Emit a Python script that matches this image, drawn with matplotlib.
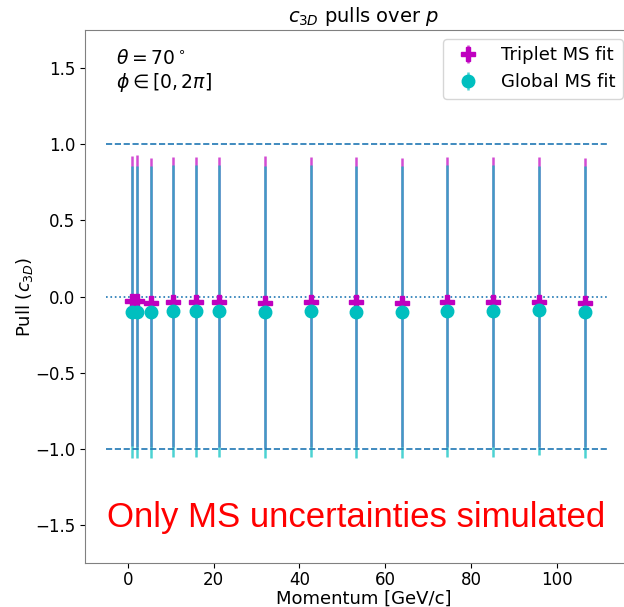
import matplotlib
matplotlib.use("Agg")
import matplotlib.pyplot as plt
import numpy as np

momentum = [1.0, 2.1, 5.3, 10.6, 16.0, 21.3, 31.9, 42.6, 53.2, 63.9, 74.5, 85.2, 95.8, 106.5]
triplet_pull = [-0.03, -0.03, -0.04, -0.035, -0.035, -0.035, -0.04, -0.035, -0.035, -0.04, -0.035, -0.035, -0.035, -0.04]
triplet_err = [0.95, 0.96, 0.95, 0.95, 0.95, 0.95, 0.96, 0.95, 0.95, 0.95, 0.95, 0.95, 0.95, 0.95]
global_pull = [-0.10, -0.10, -0.10, -0.095, -0.095, -0.095, -0.10, -0.095, -0.10, -0.10, -0.095, -0.095, -0.09, -0.10]
global_err = [0.96, 0.96, 0.96, 0.96, 0.96, 0.96, 0.96, 0.96, 0.96, 0.96, 0.96, 0.96, 0.95, 0.96]

fig = plt.figure(figsize=(6.24, 6.07), dpi=100)
ax = fig.add_axes([0.136, 0.0725, 0.894, 0.878])

ax.errorbar(momentum, triplet_pull, yerr=triplet_err, fmt='P', color='m',
            ecolor=(0.75, 0.0, 0.75, 0.7), markersize=10, elinewidth=1.8,
            label='Triplet MS fit')
ax.errorbar(momentum, global_pull, yerr=global_err, fmt='o', color='c',
            ecolor=(0.0, 0.75, 0.75, 0.7), markersize=9, elinewidth=1.8,
            label='Global MS fit')

xmin_l, xmax_l = -5, 112
ax.hlines([1.0, -1.0], xmin_l, xmax_l, colors='tab:blue', linestyles='dashed', linewidth=1.2)
ax.hlines([0.0], xmin_l, xmax_l, colors='tab:blue', linestyles='dotted', linewidth=1.2)

ax.set_xlim(-10, 120)
ax.set_ylim(-1.75, 1.75)
ax.set_xticks([0, 20, 40, 60, 80, 100])
ax.set_yticks([-1.5, -1.0, -0.5, 0.0, 0.5, 1.0, 1.5])
ax.tick_params(labelsize=12)
ax.tick_params(axis='x', pad=2.5)
for s in ax.spines.values():
    s.set_color('#808080')

ax.set_title(r'$c_{3D}$ pulls over $p$', fontsize=14)
ax.set_xlabel('Momentum [GeV/c]', fontsize=13, labelpad=0)
ax.set_ylabel(r'Pull ($c_{3D}$)', fontsize=13, labelpad=0)

ax.text(0.055, 0.965, r'$\theta=70^\circ$' + '\n' + r'$\phi\in[0, 2\pi]$', transform=ax.transAxes,
        fontsize=13.5, va='top', ha='left', linespacing=1.2)
ax.text(0.04, 0.085, 'Only MS uncertainties simulated', transform=ax.transAxes,
        fontsize=25, color='red', family='Liberation Sans', va='center', ha='left')

ax.legend(loc='upper right', bbox_to_anchor=(0.98, 1.0), fontsize=13, handletextpad=0.8)

fig.savefig('out.png', dpi=100)
